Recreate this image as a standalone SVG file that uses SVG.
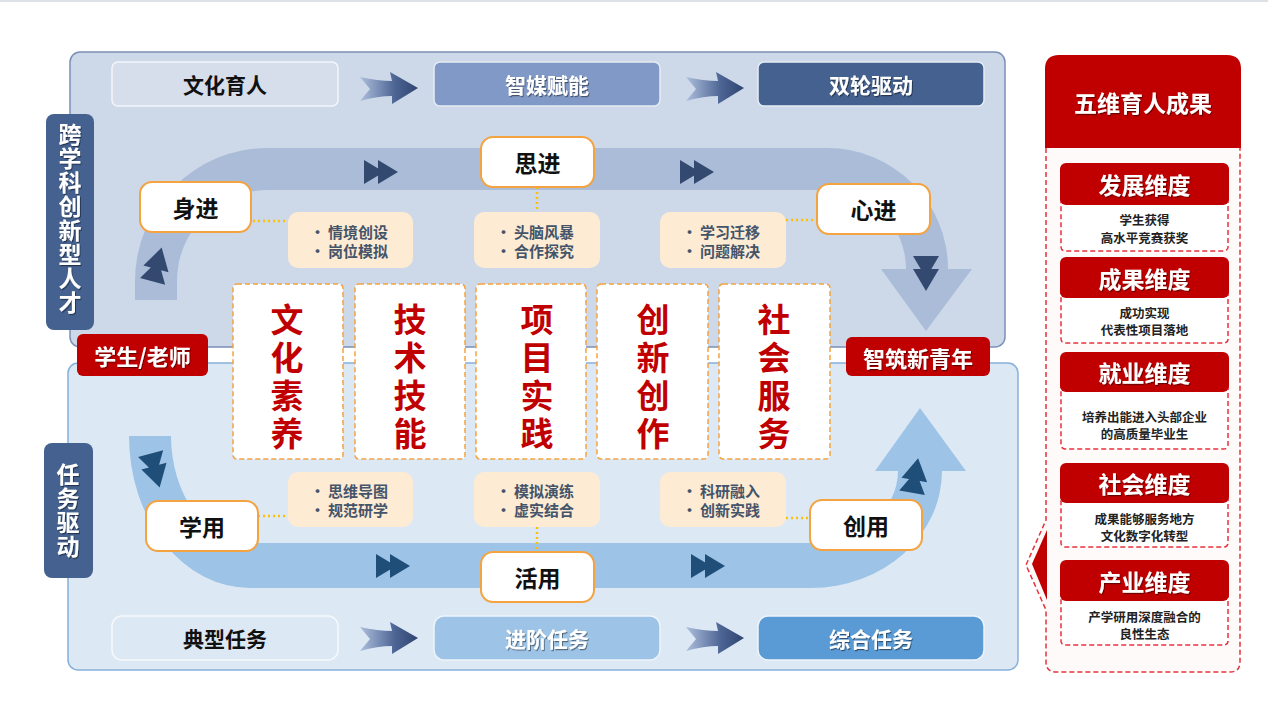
<svg xmlns="http://www.w3.org/2000/svg" width="1268" height="705" viewBox="0 0 1268 705">
<defs>
<style>
text{font-family:"Noto Sans CJK SC","Noto Sans",sans-serif;font-weight:700;text-anchor:middle;dominant-baseline:central}
.vt{writing-mode:vertical-rl;text-anchor:start}
.node{fill:#fff;stroke:#f4a340;stroke-width:2}
.nt{font-size:23px;fill:#111}
.bul{fill:#fdebd3}
.bt{font-size:15px;fill:#44546a;text-anchor:start}
.big{fill:#fff;stroke:#f5a33e;stroke-width:1.5;stroke-dasharray:5 3}
.bigt{font-size:33px;fill:#c00000;letter-spacing:5px}
.wt{fill:#fff;filter:url(#sh)}
.dot{stroke:#ffc000;stroke-width:2.5;stroke-dasharray:2 3;fill:none}
.sa1{fill:#34496f}
.sa2{fill:#1f4e79}
.rh{fill:#c00000}
.rc{fill:#fff;stroke:#e8323c;stroke-width:1.5;stroke-dasharray:5 3}
.rt{font-size:12.5px;fill:#222}
.rht{font-size:23px}
</style>
<filter id="sh" x="-10%" y="-10%" width="130%" height="140%"><feDropShadow dx="1" dy="1.2" stdDeviation="0.6" flood-color="#000" flood-opacity="0.45"/></filter>
<linearGradient id="ag" x1="0" y1="0" x2="1" y2="0"><stop offset="0" stop-color="#aebfdd"/><stop offset="0.6" stop-color="#4d6594"/><stop offset="1" stop-color="#2f4470"/></linearGradient>
<path id="chev" d="M0,-11 Q18,-7 32,-7 L30,-16 L58,0 L32,16 L32,8 Q18,8 0,13 L10,1 Z" fill="url(#ag)"/>
<path id="dbl" d="M0,-12 L20,0 L0,12 Z M14,-12 L34,0 L14,12 Z"/>
<path id="dd" d="M-13,-17 L13,-17 L0,5 Z M-13,-4 L13,-4 L0,18 Z"/>
</defs>
<rect x="0" y="0" width="1268" height="2" fill="#dde1e8"/>

<g id="panel-top">
<rect x="70" y="52" width="935" height="295" rx="10" fill="#cdd8e8" stroke="#7b90b7" stroke-width="1.5"/>
</g>
<g id="panel-bottom">
<rect x="68" y="363" width="950" height="307" rx="10" fill="#dde8f5" stroke="#86b0dc" stroke-width="1.5"/>
</g>

<g id="flow-bands">
<path d="M135 300 L135 281 A133 133 0 0 1 268 148 L827 148 A121 121 0 0 1 948 269 L972 269 L926 331 L881 269 L906 269 A79 79 0 0 0 827 190 L268 190 A91 91 0 0 0 177 281 L177 300 Z" fill="#aabcd8"/>
<path d="M129 436 A121 152 0 0 0 250 588 L811 588 A131 117 0 0 0 942 471 L966 471 L920 408 L875 471 L898 471 A87 72 0 0 1 811 543 L250 543 A79 107 0 0 1 171 436 Z" fill="#9dc3e6"/>
<use href="#dbl" x="364" y="172" class="sa1"/>
<use href="#dbl" x="680" y="172" class="sa1"/>
<use href="#dbl" x="376" y="566" class="sa2"/>
<use href="#dbl" x="691" y="566" class="sa2"/>
<use href="#dd" transform="translate(157,265) rotate(195)" class="sa1"/>
<use href="#dd" transform="translate(926,273)" class="sa1"/>
<use href="#dd" transform="translate(155,470) rotate(-15)" class="sa2"/>
<use href="#dd" transform="translate(915,476) rotate(190)" class="sa2"/>
</g>

<g id="stage-top">
<rect x="112" y="62" width="226" height="44" rx="6" fill="#d6deeb" stroke="#f4f6fa" stroke-width="1.5"/>
<text x="225" y="84" font-size="21" fill="#111">文化育人</text>
<rect x="434" y="62" width="226" height="44" rx="6" fill="#8199c6" stroke="#e6ebf4" stroke-width="1.5"/>
<text x="547" y="84" font-size="21" class="wt">智媒赋能</text>
<rect x="758" y="62" width="226" height="44" rx="6" fill="#44618f" stroke="#e6ebf4" stroke-width="1.5"/>
<text x="871" y="84" font-size="21" class="wt">双轮驱动</text>
</g>
<g id="stage-bottom">
<rect x="112" y="616" width="226" height="44" rx="10" fill="#dde8f5" stroke="#f6f9fc" stroke-width="1.5"/>
<text x="225" y="638" font-size="21" fill="#111">典型任务</text>
<rect x="434" y="616" width="226" height="44" rx="10" fill="#9dc3e6" stroke="#eef4fa" stroke-width="1.5"/>
<text x="547" y="638" font-size="21" class="wt">进阶任务</text>
<rect x="758" y="616" width="226" height="44" rx="10" fill="#5b9bd5" stroke="#eef4fa" stroke-width="1.5"/>
<text x="871" y="638" font-size="21" class="wt">综合任务</text>
</g>

<g id="connectors">
<use href="#chev" x="360" y="88"/>
<use href="#chev" x="686" y="88"/>
<use href="#chev" x="360" y="638"/>
<use href="#chev" x="686" y="638"/>
<line x1="253" y1="221" x2="288" y2="221" class="dot"/>
<line x1="537" y1="187" x2="537" y2="212" class="dot"/>
<line x1="786" y1="220" x2="817" y2="220" class="dot"/>
<line x1="258" y1="516" x2="288" y2="516" class="dot"/>
<line x1="537" y1="527" x2="537" y2="552" class="dot"/>
<line x1="786" y1="518" x2="810" y2="518" class="dot"/>
</g>

<g id="label-left-top">
<rect x="46" y="114" width="48" height="216" rx="8" fill="#44618f"/>
<text x="70" y="123" font-size="23" letter-spacing="1" class="wt vt">跨学科创新型人才</text>
</g>
<g id="label-left-bottom">
<rect x="44" y="443" width="49" height="135" rx="8" fill="#44618f"/>
<text x="68" y="463" font-size="23" letter-spacing="1" class="wt vt">任务驱动</text>
</g>

<g id="node-shenjin"><rect x="140" y="182" width="111" height="50" rx="12" class="node"/><text x="195.5" y="207" class="nt">身进</text></g>
<g id="node-sijin"><rect x="481" y="137" width="113" height="50" rx="12" class="node"/><text x="537.5" y="162" class="nt">思进</text></g>
<g id="node-xinjin"><rect x="817" y="184" width="113" height="50" rx="12" class="node"/><text x="873.5" y="209" class="nt">心进</text></g>
<g id="node-xueyong"><rect x="146" y="501" width="112" height="50" rx="12" class="node"/><text x="202" y="526" class="nt">学用</text></g>
<g id="node-huoyong"><rect x="481" y="552" width="113" height="50" rx="12" class="node"/><text x="537.5" y="577" class="nt">活用</text></g>
<g id="node-chuangyong"><rect x="810" y="500" width="112" height="50" rx="12" class="node"/><text x="866" y="525" class="nt">创用</text></g>

<g id="bullets-1"><rect x="288" y="212" width="125" height="56" rx="10" class="bul"/><text class="bt"><tspan x="310" y="231">•</tspan><tspan x="328" y="231">情境创设</tspan><tspan x="310" y="250">•</tspan><tspan x="328" y="250">岗位模拟</tspan></text></g>
<g id="bullets-2"><rect x="474" y="212" width="126" height="56" rx="10" class="bul"/><text class="bt"><tspan x="496" y="231">•</tspan><tspan x="514" y="231">头脑风暴</tspan><tspan x="496" y="250">•</tspan><tspan x="514" y="250">合作探究</tspan></text></g>
<g id="bullets-3"><rect x="660" y="212" width="126" height="56" rx="10" class="bul"/><text class="bt"><tspan x="682" y="231">•</tspan><tspan x="700" y="231">学习迁移</tspan><tspan x="682" y="250">•</tspan><tspan x="700" y="250">问题解决</tspan></text></g>
<g id="bullets-4"><rect x="288" y="472" width="125" height="55" rx="10" class="bul"/><text class="bt"><tspan x="310" y="490">•</tspan><tspan x="328" y="490">思维导图</tspan><tspan x="310" y="509">•</tspan><tspan x="328" y="509">规范研学</tspan></text></g>
<g id="bullets-5"><rect x="474" y="472" width="126" height="55" rx="10" class="bul"/><text class="bt"><tspan x="496" y="490">•</tspan><tspan x="514" y="490">模拟演练</tspan><tspan x="496" y="509">•</tspan><tspan x="514" y="509">虚实结合</tspan></text></g>
<g id="bullets-6"><rect x="660" y="472" width="126" height="55" rx="10" class="bul"/><text class="bt"><tspan x="682" y="490">•</tspan><tspan x="700" y="490">科研融入</tspan><tspan x="682" y="509">•</tspan><tspan x="700" y="509">创新实践</tspan></text></g>

<g id="core-1"><rect x="233" y="284" width="110" height="175" rx="4" class="big"/><text x="287" y="303" class="bigt vt">文化素养</text></g>
<g id="core-2"><rect x="355" y="284" width="110" height="175" rx="4" class="big"/><text x="410" y="303" class="bigt vt">技术技能</text></g>
<g id="core-3"><rect x="476" y="284" width="110" height="175" rx="4" class="big"/><text x="537" y="303" class="bigt vt">项目实践</text></g>
<g id="core-4"><rect x="597" y="284" width="111" height="175" rx="4" class="big"/><text x="653" y="303" class="bigt vt">创新创作</text></g>
<g id="core-5"><rect x="719" y="284" width="111" height="175" rx="4" class="big"/><text x="774" y="303" class="bigt vt">社会服务</text></g>

<g id="tag-start"><rect x="77" y="334" width="131" height="42" rx="6" fill="#c00000"/><text x="142.5" y="355" font-size="22" class="wt">学生/老师</text></g>
<g id="tag-end"><rect x="846" y="337" width="144" height="39" rx="6" fill="#c00000"/><text x="918" y="356.5" font-size="22" class="wt">智筑新青年</text></g>

<g id="outcomes">
<path d="M1046 148 L1046 520 L1026 565 L1046 610 L1046 662 Q1046 672 1056 672 L1230 672 Q1240 672 1240 662 L1240 148" fill="#fffafa" stroke="#e8323c" stroke-width="1.5" stroke-dasharray="5 3"/>
<path d="M1047 530 L1032 564 L1047 600 Z" fill="#c00000"/>
<path d="M1045 148 L1045 69 Q1045 55 1059 55 L1227 55 Q1241 55 1241 69 L1241 148 Z" fill="#c00000"/>
<text x="1143" y="102" class="wt rht">五维育人成果</text>
</g>
<g id="dim-1"><rect x="1061" y="175" width="167" height="76" rx="4" class="rc"/><rect x="1060" y="163" width="169" height="42" rx="6" class="rh"/><text x="1144.5" y="184" class="wt rht">发展维度</text><text class="rt"><tspan x="1144.5" y="219.25">学生获得</tspan><tspan x="1144.5" y="236.75">高水平竞赛获奖</tspan></text></g>
<g id="dim-2"><rect x="1061" y="268" width="167" height="75" rx="4" class="rc"/><rect x="1060" y="257" width="169" height="41" rx="6" class="rh"/><text x="1144.5" y="277.5" class="wt rht">成果维度</text><text class="rt"><tspan x="1144.5" y="311.75">成功实现</tspan><tspan x="1144.5" y="329.25">代表性项目落地</tspan></text></g>
<g id="dim-3"><rect x="1061" y="362" width="167" height="87" rx="4" class="rc"/><rect x="1060" y="352" width="169" height="40" rx="6" class="rh"/><text x="1144.5" y="372" class="wt rht">就业维度</text><text class="rt"><tspan x="1144.5" y="415.75">培养出能进入头部企业</tspan><tspan x="1144.5" y="433.25">的高质量毕业生</tspan></text></g>
<g id="dim-4"><rect x="1061" y="473" width="167" height="74" rx="4" class="rc"/><rect x="1060" y="463" width="169" height="40" rx="6" class="rh"/><text x="1144.5" y="483" class="wt rht">社会维度</text><text class="rt"><tspan x="1144.5" y="517.75">成果能够服务地方</tspan><tspan x="1144.5" y="535.25">文化数字化转型</tspan></text></g>
<g id="dim-5"><rect x="1061" y="570" width="167" height="75" rx="4" class="rc"/><rect x="1060" y="560" width="169" height="41" rx="6" class="rh"/><text x="1144.5" y="580.5" class="wt rht">产业维度</text><text class="rt"><tspan x="1144.5" y="615.75">产学研用深度融合的</tspan><tspan x="1144.5" y="633.25">良性生态</tspan></text></g>
</svg>
